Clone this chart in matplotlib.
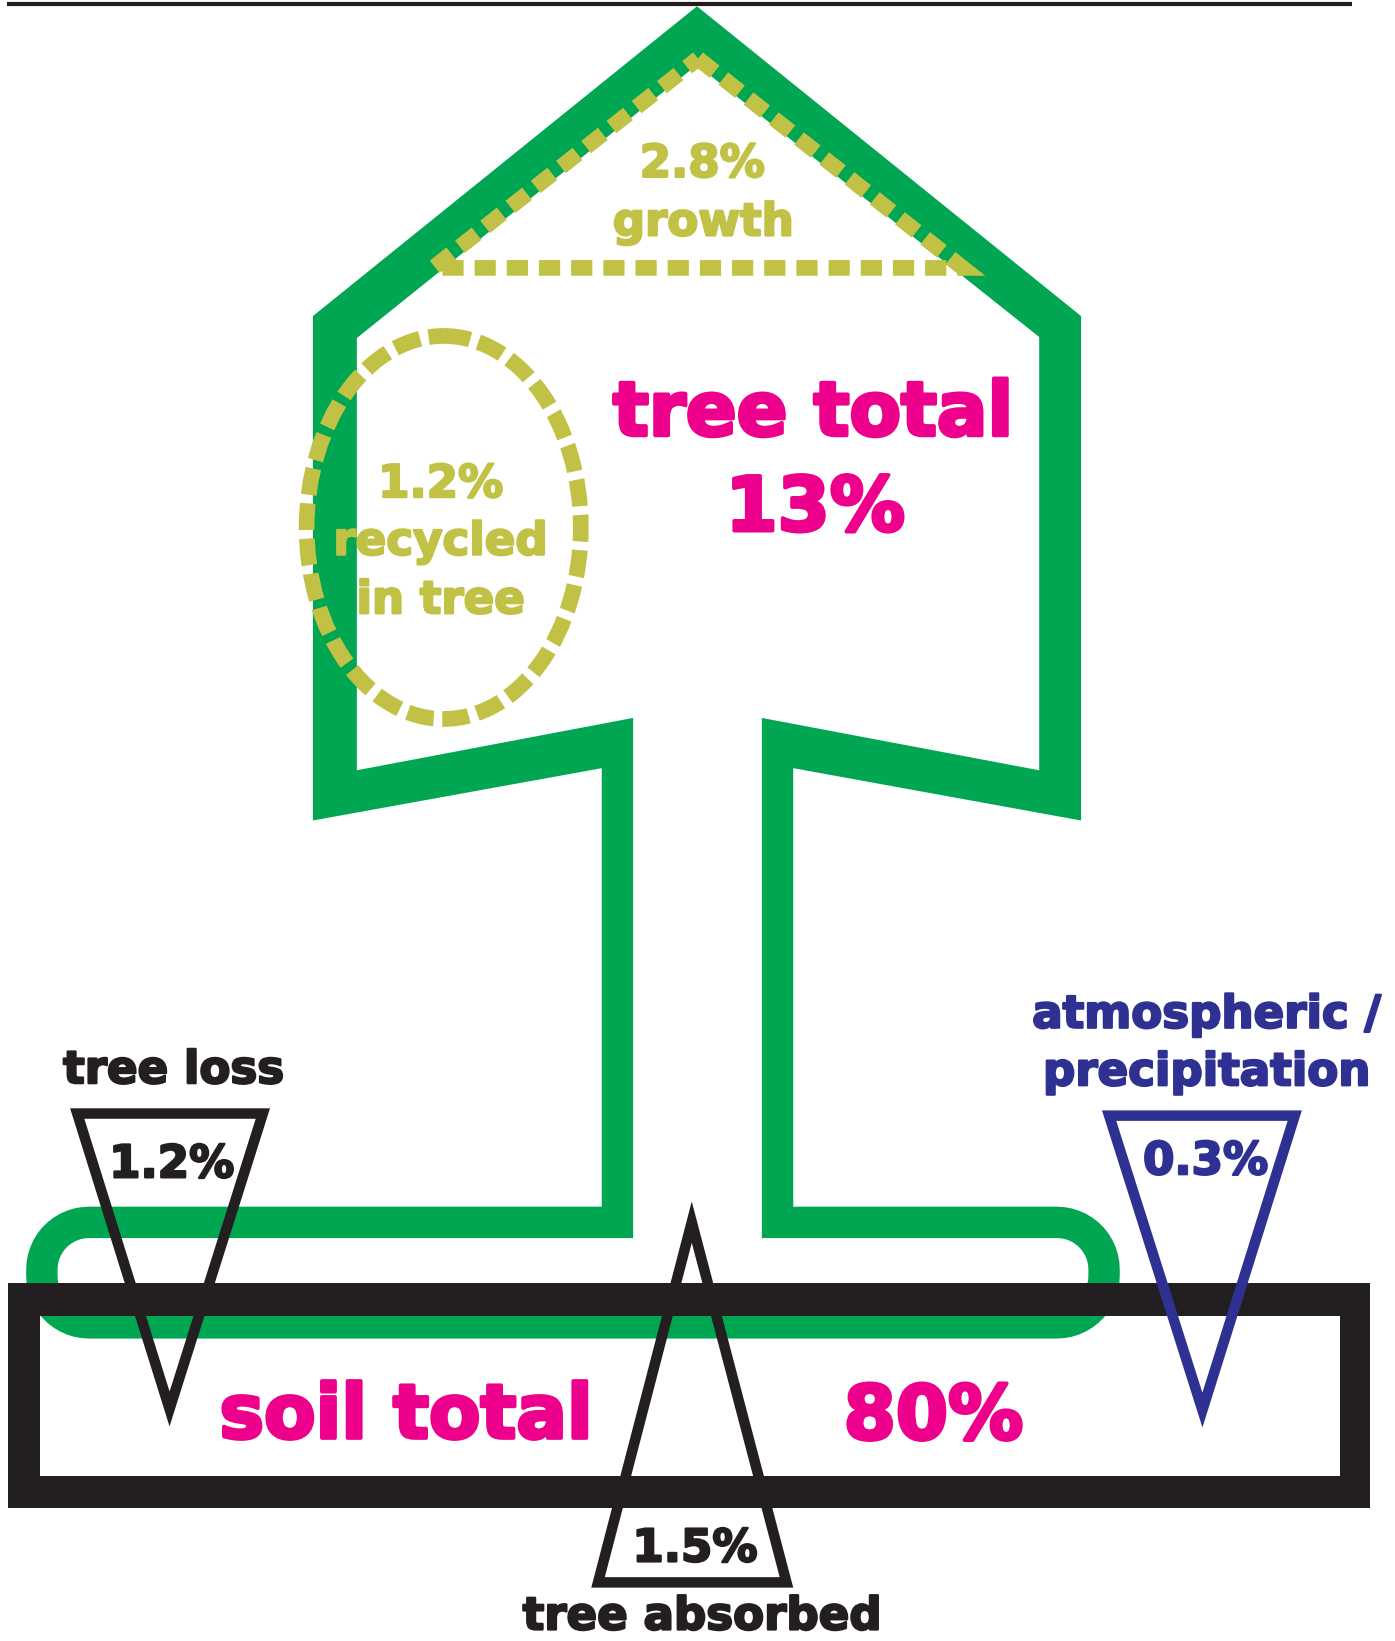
import numpy as np
import matplotlib
matplotlib.use("Agg")
import matplotlib.pyplot as plt
import matplotlib.patheffects as pe
from matplotlib.path import Path
from matplotlib.patches import PathPatch, Polygon, Ellipse

# nitrogen budget values (percent)
growth = 2.8
recycled = 1.2
tree_total = 13
soil_total = 80
tree_loss = 1.2
atmospheric = 0.3
tree_absorbed = 1.5

GREEN = "#00a651"
OLIVE = "#c1c245"
MAGENTA = "#ec008c"
NAVY = "#2e3192"
BLACK = "#231f20"

W, H = 1333, 1568          # drawing units (reference pixels)
PT = 72 * 13.95 / W        # points per drawing unit
FONT = ["DejaVu Sans"]


def arc(cx, cy, r, a0, a1, n=14):
    a = np.radians(np.linspace(a0, a1, n))
    return list(zip(cx + r * np.cos(a), cy + r * np.sin(a)))


def area(pts):
    p = np.array(pts)
    return 0.5 * np.sum(p[:, 0] * np.roll(p[:, 1], -1) - np.roll(p[:, 0], -1) * p[:, 1])


def ring(outer, inner):
    # filled shape with a hole
    if np.sign(area(outer)) == np.sign(area(inner)):
        inner = inner[::-1]
    verts, codes = [], []
    for poly in (outer, inner):
        verts += list(poly) + [poly[0]]
        codes += [Path.MOVETO] + [Path.LINETO] * (len(poly) - 1) + [Path.CLOSEPOLY]
    return Path(verts, codes)


def inset(poly, t):
    # offset each edge of a polygon inwards by t
    p = np.array(poly, float)
    n = len(p)
    c = p.mean(axis=0)
    lines = []
    for i in range(n):
        a, b = p[i], p[(i + 1) % n]
        d = (b - a) / np.linalg.norm(b - a)
        nrm = np.array([-d[1], d[0]])
        if np.dot(c - a, nrm) < 0:
            nrm = -nrm
        lines.append((a + nrm * t, d))
    out = []
    for i in range(n):
        (a1, d1), (a2, d2) = lines[i - 1], lines[i]
        s = np.linalg.solve(np.array([d1, -d2]).T, a2 - a1)
        out.append(a1 + s[0] * d1)
    return out


def triangle(ax, pts, color, t=10):
    ax.add_patch(PathPatch(ring(pts, inset(pts, t)), fc=color, ec="none", zorder=5))


def label(ax, x, y, s, color, size):
    # a thin stroke in the same colour makes the bold face look heavier
    ax.text(x, y, s, color=color, fontsize=size, fontweight="bold", family=FONT,
            ha="center", va="baseline", zorder=6,
            path_effects=[pe.withStroke(linewidth=size * 0.05, foreground=color)])


fig = plt.figure(figsize=(13.95, 16.41), dpi=100)
ax = fig.add_axes([0, 0, 1, 1])
ax.set_xlim(0, W)
ax.set_ylim(H, 0)
ax.axis("off")

# top rule
ax.plot([7, 1292], [3.5, 3.5], color=BLACK, lw=4 * PT, solid_capstyle="butt")

# tree outline with root loop
outer = ([(666, 6), (299, 302), (299, 784), (575, 734), (575, 1153)]
         + arc(85, 1213, 60, -90, -180) + arc(85, 1219, 60, 180, 90)
         + arc(1010, 1219, 60, 90, 0) + arc(1010, 1213, 60, 0, -90)
         + [(758, 1153), (758, 734), (1033, 784), (1033, 302)])
inner = ([(666, 62), (993, 322), (993, 736), (728, 686), (728, 1183)]
         + arc(1010, 1213, 30, -90, 0) + arc(1010, 1219, 30, 0, 90)
         + arc(85, 1219, 30, 90, 180) + arc(85, 1213, 30, 180, 270)
         + [(605, 1183), (605, 686), (341, 736), (341, 323)])
ax.add_patch(PathPatch(ring(outer, inner), fc=GREEN, ec="none", zorder=1))

# growth triangle and recycled ellipse (dashed)
ax.add_patch(Polygon([(667, 56), (920, 256), (414, 256)], closed=True, fill=False,
                     ec=OLIVE, lw=15 * PT, ls=(0, (1.35, 0.7)), joinstyle="miter", zorder=2))
ax.add_patch(Ellipse((424, 504), 262, 366, fill=False, ec=OLIVE, lw=15 * PT,
                     ls=(0, (1.7, 0.55)), zorder=2))

# soil box
box_out = [(8, 1226), (1309, 1226), (1309, 1441), (8, 1441)]
box_in = [(38, 1257), (1280, 1257), (1280, 1410), (38, 1410)]
ax.add_patch(PathPatch(ring(box_out, box_in), fc=BLACK, ec="none", zorder=3))

# flux triangles
triangle(ax, [(67, 1059), (258, 1059), (162, 1363)], BLACK)
triangle(ax, [(1053, 1061), (1244, 1061), (1149, 1364)], NAVY)
triangle(ax, [(661, 1148), (758, 1517), (565, 1517)], BLACK)

# texts
small, big = 32.5, 54
label(ax, 671, 169, f"{growth:g}%", OLIVE, small)
label(ax, 672, 225, "growth", OLIVE, small)
label(ax, 421, 475, f"{recycled:g}%", OLIVE, small)
label(ax, 421, 530, "recycled", OLIVE, small)
label(ax, 421, 586, "in tree", OLIVE, small)
label(ax, 777, 416, "tree total", MAGENTA, big)
label(ax, 779, 507, f"{tree_total:g}%", MAGENTA, big)
label(ax, 388, 1374, "soil total", MAGENTA, big)
label(ax, 892, 1375, f"{soil_total:g}%", MAGENTA, big)
label(ax, 166, 1035, "tree loss", BLACK, small)
label(ax, 164, 1125, f"{tree_loss:g}%", BLACK, small)
label(ax, 1153, 982, "atmospheric /", NAVY, small)
label(ax, 1153, 1037, "precipitation", NAVY, small)
label(ax, 1152, 1122, f"{atmospheric:g}%", NAVY, small)
label(ax, 664, 1492, f"{tree_absorbed:g}%", BLACK, small)
label(ax, 671, 1557, "tree absorbed", BLACK, small)

fig.savefig("out.png", dpi=100, facecolor="white")
